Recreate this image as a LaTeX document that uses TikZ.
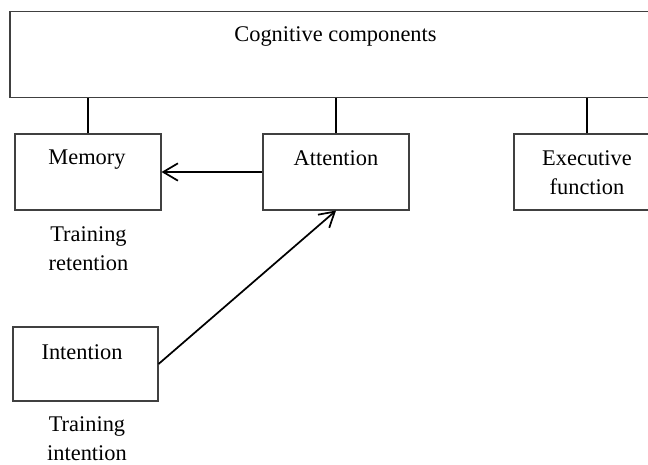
\documentclass[tikz,border=0pt]{standalone}
\usepackage{fontspec}
\setmainfont{Liberation Serif}
\usetikzlibrary{arrows.meta}
\tikzset{
  comp/.style={draw=black!75, line width=0.8pt, minimum width=109.5pt, minimum height=57pt, inner sep=0pt},
  lbl/.style={font=\fontsize{16.8pt}{21.75pt}\selectfont, align=center, inner sep=0pt},
  link/.style={line width=1.3pt},
  arr/.style={line width=1.3pt, -{Straight Barb[length=11pt, width=13pt, line width=1.3pt]}}
}

\begin{document}
\begin{tikzpicture}[x=0.75pt,y=-0.75pt]
  \useasboundingbox (0,0) rectangle (648,464);
  \clip (0,0) rectangle (648,464);
  % boxes
  \node[comp, minimum width=487.5pt, minimum height=64.5pt] (top) at (335,54.5) {};
  \node[comp] (mem) at (88,172) {};
  \node[comp] (att) at (336,172) {};
  \node[comp] (exe) at (587,172) {};
  \node[comp, minimum width=108.75pt, minimum height=55.5pt] (int) at (85.5,364) {};
  % texts
  \node[lbl, anchor=base] (toptxt) at (335.5,41.5) {Cognitive components};
  \node[lbl, anchor=north] (memtxt) at (87,150) {Memory};
  \node[lbl, anchor=north] (atttxt) at (336,150) {Attention};
  \node[lbl, anchor=north] (exetxt) at (587,150) {Executive\\function};
  \node[lbl, anchor=north] (inttxt) at (82,344) {Intention};
  \node[lbl, anchor=north] (trret) at (88.5,226) {Training\\retention};
  \node[lbl, anchor=north] (trint) at (87,416) {Training\\intention};
  % connectors
  \foreach \b in {mem,att,exe}
    \draw[link] (\b.north) -- (\b.north |- top.south);
  \draw[arr] (att.west) -- (mem.east);
  \draw[arr] (int.east) -- (att.south);
\end{tikzpicture}
\end{document}
